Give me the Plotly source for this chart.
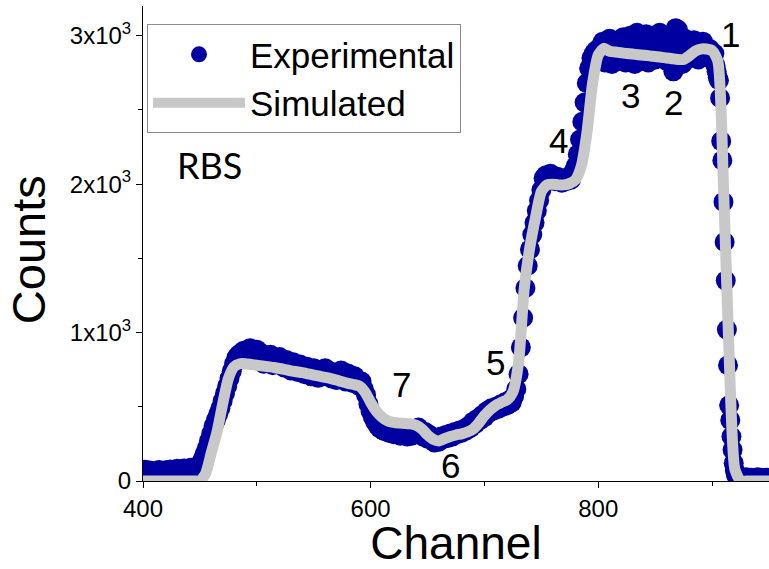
import plotly.graph_objects as go

# ---- Experimental RBS spectrum (counts per channel) ----
exp_channels = list(range(400, 900, 2)) + list(range(900, 926)) + list(range(926, 951, 2))
exp_counts = [
    # 400-418
    60, 75, 55, 70, 62, 50, 68, 74, 58, 66,
    # 420-438
    72, 60, 78, 64, 70, 82, 66, 75, 85, 70,
    # 440-458
    80, 90, 78, 88, 95, 110, 140, 180, 220, 270,
    # 460-478
    320, 370, 410, 450, 490, 540, 590, 640, 690, 740,
    # 480-498
    790, 830, 850, 860, 875, 880, 860, 895, 850, 870,
    # 500-518
    885, 830, 860, 790, 845, 820, 850, 780, 830, 790,
    # 520-538
    835, 800, 765, 815, 790, 745, 800, 770, 735, 785,
    # 540-558
    755, 720, 770, 740, 705, 760, 730, 695, 745, 720,
    # 560-578
    760, 705, 740, 690, 730, 680, 720, 745, 690, 670,
    # 580-598
    725, 680, 660, 705, 670, 640, 670, 620, 580, 520,
    # 600-618
    470, 430, 400, 375, 355, 345, 335, 355, 325, 345,
    # 620-638
    315, 350, 325, 305, 345, 315, 300, 330, 305, 340,
    # 640-658
    325, 360, 315, 300, 330, 285, 310, 275, 260, 290,
    # 660-678
    265, 300, 285, 310, 290, 320, 300, 330, 315, 340,
    # 680-698
    325, 350, 340, 370, 360, 400, 385, 420, 410, 445,
    # 700-718
    430, 470, 460, 490, 475, 500, 485, 515, 500, 530,
    # 720-738
    510, 545, 530, 570, 620, 720, 900, 1100, 1300, 1450,
    # 740-758
    1560, 1660, 1740, 1820, 1890, 1960, 2040, 2060, 2050, 2070,
    # 760-778
    2040, 2020, 2050, 2030, 2010, 2040, 2020, 2050, 2030, 2080,
    # 780-798
    2120, 2200, 2300, 2420, 2550, 2680, 2780, 2850, 2880, 2900,
    # 800-818
    2880, 2930, 2960, 2820, 2940, 2980, 2810, 2920, 2960, 2830,
    # 820-838
    2940, 2990, 2820, 2950, 3000, 2900, 2810, 3020, 2930, 2830,
    # 840-858
    2960, 3010, 2820, 2950, 3000, 2840, 2940, 3020, 2900, 2960,
    # 860-878
    2830, 3000, 2930, 2760, 3050, 3040, 2920, 2810, 2980, 2900,
    # 880-898
    2950, 2850, 2970, 2900, 2840, 2950, 2960, 2900, 2860, 2910,
    # 900-925 (every channel across the high-energy edge)
    2870, 2830, 2880, 2800, 2760, 2720, 2700, 2580, 2290, 2160,
    1880, 1610, 1350, 1020, 780, 510, 410, 300, 210, 120,
    70, 40, 30, 20, 25, 18,
    # 926-950
    20, 15, 25, 18, 22, 15, 20, 25, 18, 20, 15, 22, 18,
]

# ---- Simulated spectrum ----
sim_channels = list(range(400, 951, 5))
sim_counts = [
    0, 0, 0, 0, 0, 0, 0, 0, 0, 0,                                # 400-445
    0, 50, 190, 330, 520, 690, 770, 790, 790, 785,               # 450-495
    780, 775, 770, 765, 758, 750, 742, 736, 730, 722,            # 500-545
    714, 706, 698, 690, 680, 668, 658, 650, 640, 600,            # 550-595
    530, 470, 430, 405, 395, 390, 388, 385, 375, 350,            # 600-645
    310, 280, 270, 285, 300, 310, 318, 330, 350, 390,            # 650-695
    440, 480, 510, 530, 548, 600, 800, 1300, 1580, 1780,         # 700-745
    1950, 1995, 2000, 1995, 1995, 2005, 2030, 2120, 2345, 2680,  # 750-795
    2870, 2915, 2895, 2890, 2885, 2880, 2876, 2872, 2868, 2864,  # 800-845
    2860, 2855, 2850, 2845, 2840, 2840, 2865, 2895, 2910, 2910,  # 850-895
    2900, 2830, 1990, 840, 80, 0, 0, 0, 0, 0,                    # 900-945
    0,                                                           # 950
]

# ---- Peak / edge labels ----
label_text = ["1", "2", "3", "4", "5", "6", "7"]
label_ch = [916, 866, 828, 765, 710, 670, 627]
label_counts = [3005, 2547, 2594, 2297, 801, 107, 653]

y_tickvals = [0, 1000, 2000, 3000]
y_ticktext = ["0", "1x10<sup>3</sup>", "2x10<sup>3</sup>", "3x10<sup>3</sup>"]

FONT = "Liberation Sans, Arial, sans-serif"

fig = go.Figure()
fig.add_trace(go.Scatter(
    x=exp_channels, y=exp_counts, mode="markers", name="Experimental",
    marker=dict(size=20, color="#0000A0", line=dict(width=0)),
))
fig.add_trace(go.Scatter(
    x=sim_channels, y=sim_counts, mode="lines", name="Simulated",
    line=dict(color="#C8C8C8", width=11, shape="spline", smoothing=0.6),
))

for t, cx, cy in zip(label_text, label_ch, label_counts):
    fig.add_annotation(x=cx, y=cy, text=t, showarrow=False,
                       font=dict(family=FONT, size=35, color="black"),
                       xanchor="center", yanchor="middle")

fig.add_annotation(x=428, y=2129, text="RBS", showarrow=False,
                   font=dict(family="Lato, Open Sans, sans-serif", size=36, color="black"),
                   xanchor="left", yanchor="middle")

# vertical axis title
fig.add_annotation(xref="paper", yref="paper", x=-0.1837, y=0.486, text="Counts",
                   showarrow=False, xanchor="center", yanchor="middle", textangle=-90,
                   font=dict(family=FONT, size=47, color="black"))

x_range = [400, 950]
y_range = [0, 3200]

fig.update_layout(
    width=769, height=569,
    margin=dict(l=143, r=0, t=6, b=88, pad=0),
    paper_bgcolor="white", plot_bgcolor="white",
    font=dict(family=FONT, color="black"),
    showlegend=True,
    legend=dict(
        x=0.0064, y=0.962, xanchor="left", yanchor="top",
        bgcolor="white", bordercolor="#8C8C8C", borderwidth=1,
        font=dict(family=FONT, size=35, color="black"),
        itemwidth=92, tracegroupgap=0,
    ),
    xaxis=dict(
        range=x_range, showgrid=False, zeroline=False,
        showline=True, linecolor="black", linewidth=1,
        ticks="outside", ticklen=6, tickcolor="black",
        tickmode="linear", tick0=400, dtick=200,
        minor=dict(ticks="outside", ticklen=4, dtick=100, tick0=400, tickcolor="black", showgrid=False),
        tickfont=dict(family=FONT, size=24),
        title=dict(text="Channel", font=dict(family=FONT, size=46), standoff=8),
    ),
    yaxis=dict(
        range=y_range, showgrid=False, zeroline=False,
        showline=True, linecolor="black", linewidth=1,
        ticks="outside", ticklen=6, tickcolor="black",
        tickmode="array", tickvals=y_tickvals, ticktext=y_ticktext,
        minor=dict(ticks="outside", ticklen=4, dtick=500, tick0=0, tickcolor="black", showgrid=False),
        tickfont=dict(family=FONT, size=24),
    ),
    xaxis2=dict(
        overlaying="x", side="top", anchor="y", range=x_range,
        showgrid=False, zeroline=False, showticklabels=False,
        showline=True, linecolor="black", linewidth=1,
        ticks="inside", ticklen=7, tickcolor="black",
        tickmode="linear", tick0=400, dtick=200,
        minor=dict(ticks="inside", ticklen=5, dtick=100, tick0=400, tickcolor="black", showgrid=False),
    ),
    yaxis2=dict(
        overlaying="y", side="right", anchor="x", range=y_range,
        showgrid=False, zeroline=False, showticklabels=False,
        showline=False,
        ticks="inside", ticklen=7, tickcolor="black",
        tickmode="linear", tick0=0, dtick=1000,
        minor=dict(ticks="inside", ticklen=5, dtick=500, tick0=0, tickcolor="black", showgrid=False),
    ),
)

fig.write_html("out.html")
